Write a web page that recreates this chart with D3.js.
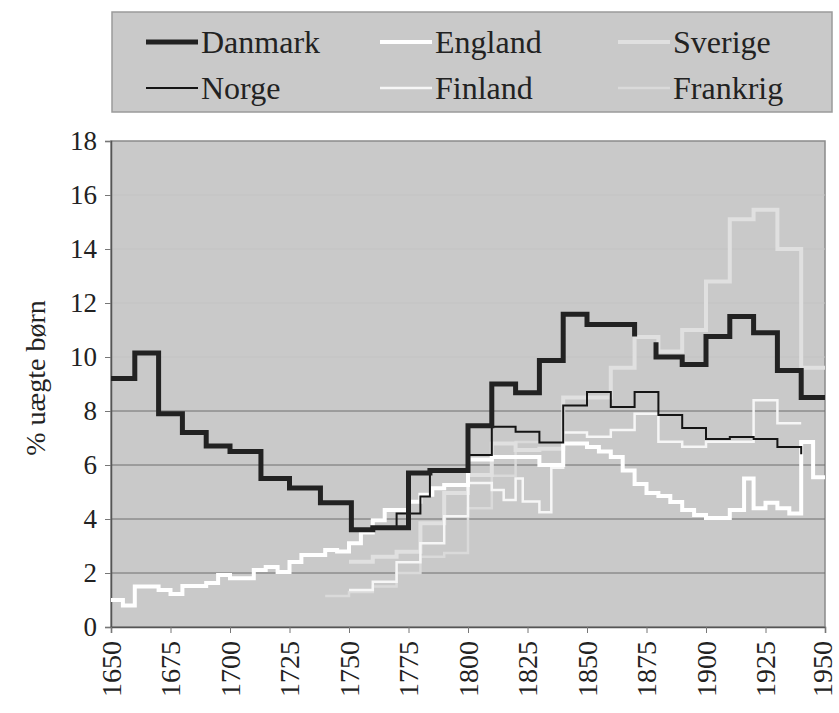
<!DOCTYPE html>
<html>
<head>
<meta charset="utf-8">
<script src="https://cdn.jsdelivr.net/npm/d3@7"></script>
<style>
  body { margin: 0; background: #fff; }
</style>
</head>
<body>
<div id="chart"></div>
<script>
// step series: [start year, % value]; null value breaks the line
var danmark = [[1650, 9.2], [1660, 10.15], [1670, 7.9], [1680, 7.2], [1690, 6.7], [1700, 6.5],
  [1713, 5.5], [1725, 5.15], [1738, 4.6], [1751, 3.6], [1760, 3.68], [1775, 5.7], [1784, 5.8],
  [1800, 7.45], [1810, 9.0], [1820, 8.68], [1830, 9.87], [1840, 11.58], [1850, 11.2], [1869, 11.2],
  [1870, 10.76], [1874, null], [1879, 10.55], [1879, 10.0], [1890, 9.72], [1900, 10.76],
  [1910, 11.5], [1920, 10.9], [1930, 9.5], [1940, 8.5], [1950, 8.5]];
var norge = [[1770, 3.67], [1770, 4.2], [1780, 4.83], [1784, 5.75], [1800, 6.37], [1810, 7.42],
  [1820, 7.23], [1830, 6.83], [1840, 8.2], [1850, 8.7], [1860, 8.15], [1870, 8.7], [1880, 7.85],
  [1890, 7.37], [1900, 6.96], [1910, 7.04], [1920, 6.96], [1930, 6.67], [1939, 6.67], [1940, 6.4]];
var england = [[1650, 1.0], [1655, 0.8], [1660, 1.5], [1670, 1.37], [1675, 1.22], [1680, 1.52],
  [1690, 1.63], [1695, 1.93], [1700, 1.81], [1710, 2.11], [1715, 2.22], [1720, 2.04], [1725, 2.41],
  [1730, 2.67], [1740, 2.85], [1745, 2.8], [1750, 3.1], [1755, 3.5], [1760, 3.95], [1765, 4.33],
  [1775, 4.64], [1780, 4.9], [1785, 5.14], [1790, 5.26], [1800, 6.2], [1810, 6.3], [1830, 6.0],
  [1840, 6.8], [1850, 6.67], [1855, 6.5], [1860, 6.3], [1865, 5.8], [1870, 5.3], [1875, 4.96],
  [1880, 4.85], [1885, 4.63], [1890, 4.33], [1895, 4.15], [1900, 4.04], [1910, 4.33], [1916, 5.5],
  [1920, 4.4], [1925, 4.6], [1930, 4.4], [1935, 4.2], [1940, 6.85], [1945, 5.55], [1950, 5.55]];
var finland = [[1750, 1.37], [1760, 1.68], [1770, 2.4], [1780, 3.1], [1790, 4.1], [1800, 5.33],
  [1810, 5.07], [1815, 4.7], [1820, 5.5], [1823, 4.65], [1830, 4.25], [1835, 5.9], [1840, 7.2],
  [1850, 7.05], [1860, 7.3], [1870, 7.9], [1880, 6.86], [1890, 6.68], [1900, 6.86], [1920, 8.4],
  [1930, 7.55], [1940, 7.55]];
var sverige = [[1750, 2.42], [1760, 2.6], [1770, 2.79], [1780, 3.84], [1790, 4.96], [1800, 5.63],
  [1810, 6.8], [1820, 6.56], [1830, 6.6], [1840, 8.5], [1860, 9.6], [1870, 10.74], [1880, 10.2],
  [1890, 11.0], [1900, 12.8], [1910, 15.1], [1920, 15.45], [1930, 14.0], [1940, 9.6], [1950, 9.6]];
var frankrig = [[1740, 1.15], [1750, 1.3], [1760, 1.5], [1770, 2.0], [1780, 2.6], [1790, 2.74],
  [1800, 4.4], [1810, 5.6], [1820, 6.85], [1830, 6.85]];

var yTicks = [0, 2, 4, 6, 8, 10, 12, 14, 16, 18];
var xTicks = [1650, 1675, 1700, 1725, 1750, 1775, 1800, 1825, 1850, 1875, 1900, 1925, 1950];
var yLabel = "% uægte børn";

var series = [
  {name: "Danmark", data: danmark, color: "#222", width: 5},
  {name: "Norge", data: norge, color: "#151515", width: 2},
  {name: "England", data: england, color: "#fff", width: 4},
  {name: "Finland", data: finland, color: "#f6f6f6", width: 2.5},
  {name: "Sverige", data: sverige, color: "#e0e0e0", width: 4},
  {name: "Frankrig", data: frankrig, color: "#dadada", width: 2.5}
];
// legend order: column by column
var legendOrder = ["Danmark", "Norge", "England", "Finland", "Sverige", "Frankrig"];

var FONT = "'Liberation Serif', 'Times New Roman', 'DejaVu Serif', 'Noto Serif', serif";
var W = 839, H = 713;
var m = {left: 111, right: 14, top: 141, bottom: 86};

var svg = d3.select("#chart").append("svg").attr("width", W).attr("height", H)
  .attr("font-family", FONT);

var x = d3.scaleLinear().domain([1650, 1950]).range([m.left, W - m.right]);
var y = d3.scaleLinear().domain([0, 18]).range([H - m.bottom, m.top]);

// plot background
svg.append("rect").attr("x", m.left).attr("y", m.top)
  .attr("width", x.range()[1] - m.left).attr("height", y(0) - m.top)
  .attr("fill", "#c9c9c9").attr("stroke", "#8a8a8a").attr("stroke-width", 1.5);

// gridlines (only the lower ones are visible in the print)
svg.append("g").selectAll("line").data(yTicks.filter(function(d){ return d > 0 && d < 18; }))
  .enter().append("line")
  .attr("x1", m.left).attr("x2", x.range()[1])
  .attr("y1", function(d){ return y(d); }).attr("y2", function(d){ return y(d); })
  .attr("stroke", function(d){ return d <= 8 ? "#6e6e6e" : "#c3c3c3"; })
  .attr("stroke-width", 1);

// axes
var yAxis = svg.append("g").attr("transform", "translate(" + m.left + ",0)")
  .call(d3.axisLeft(y).tickValues(yTicks).tickSize(6).tickPadding(8));
var xAxis = svg.append("g").attr("transform", "translate(0," + y(0) + ")")
  .call(d3.axisBottom(x).tickValues(xTicks).tickFormat(d3.format("d")).tickSize(6));
[yAxis, xAxis].forEach(function(a){
  a.attr("font-family", FONT);
  a.select(".domain").attr("stroke", "#555").attr("stroke-width", 1.5);
  a.selectAll(".tick line").attr("stroke", "#777");
});
yAxis.selectAll("text").attr("font-size", 27).attr("fill", "#222");
xAxis.selectAll("text").attr("font-size", 28).attr("fill", "#222")
  .attr("text-anchor", "end").attr("dy", "0.33em")
  .attr("transform", function(d){ return "translate(" + (d === 1950 ? -3 : 0) + ",14) rotate(-90)"; })
  .attr("x", 0).attr("y", 0);

svg.append("text").attr("transform", "translate(45,378) rotate(-90)")
  .attr("text-anchor", "middle").attr("font-size", 28).attr("fill", "#222").text(yLabel);

// series lines
var line = d3.line()
  .defined(function(d){ return d[1] !== null; })
  .x(function(d){ return x(d[0]); }).y(function(d){ return y(d[1]); })
  .curve(d3.curveStepAfter);

var drawOrder = ["Frankrig", "Sverige", "Finland", "England", "Norge", "Danmark"];
drawOrder.forEach(function(n){
  var s = series.find(function(e){ return e.name === n; });
  svg.append("path").datum(s.data).attr("d", line)
    .attr("fill", "none").attr("stroke", s.color).attr("stroke-width", s.width)
    .attr("stroke-linejoin", "miter");
});

// legend
var lg = svg.append("g");
lg.append("rect").attr("x", 112).attr("y", 12).attr("width", 720).attr("height", 100)
  .attr("fill", "#c9c9c9").attr("stroke", "#9a9a9a").attr("stroke-width", 1.5);
var colX = [146, 380, 618], rowY = [42, 88];
legendOrder.forEach(function(n, i){
  var s = series.find(function(e){ return e.name === n; });
  var cx = colX[Math.floor(i / 2)], cy = rowY[i % 2];
  lg.append("line").attr("x1", cx).attr("x2", cx + 52).attr("y1", cy).attr("y2", cy)
    .attr("stroke", s.color).attr("stroke-width", s.width);
  lg.append("text").attr("x", cx + 55).attr("y", cy).attr("dy", "0.33em")
    .attr("font-size", 32).attr("fill", "#222").text(n);
});
</script>
</body>
</html>
